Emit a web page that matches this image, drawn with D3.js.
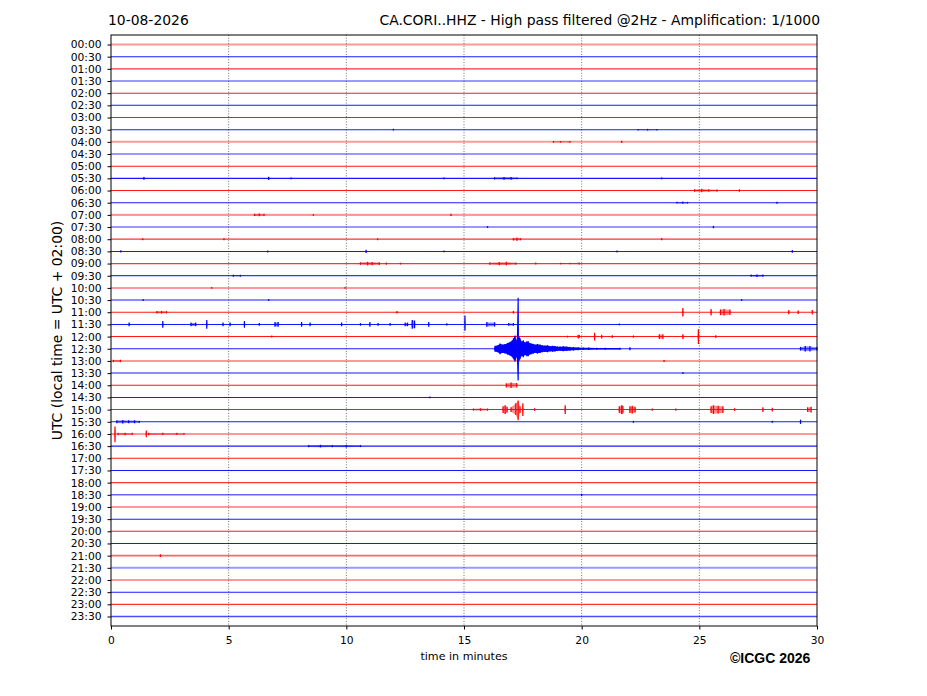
<!DOCTYPE html>
<html lang="en">
<head>
  <meta charset="UTF-8" />
  <title>CA.CORI..HHZ helicorder</title>
  <script src="https://d3js.org/d3.v7.min.js"></script>
  <style>
    body {
      background: white;
      margin: 0;
      padding: 0;
      overflow: hidden;
      font-family: "DejaVu Sans", sans-serif;
    }
  </style>
</head>
<body>
  <div id="chart"></div>
  <script>
    // one trace line per half hour
    const rowLabels = [
      "00:00", "00:30", "01:00", "01:30", "02:00", "02:30", "03:00", "03:30",
      "04:00", "04:30", "05:00", "05:30", "06:00", "06:30", "07:00", "07:30",
      "08:00", "08:30", "09:00", "09:30", "10:00", "10:30", "11:00", "11:30",
      "12:00", "12:30", "13:00", "13:30", "14:00", "14:30", "15:00", "15:30",
      "16:00", "16:30", "17:00", "17:30", "18:00", "18:30", "19:00", "19:30",
      "20:00", "20:30", "21:00", "21:30", "22:00", "22:30", "23:00", "23:30"
    ];
    const rowColors = ["#ff0000", "#0000ff"];

    // background noise level of each trace (amplitude units)
    const rowNoise = [
      1.0, 0.5, 0.6, 1.0, 0.5, 0.5, 0.5, 0.5,
      1.0, 1.0, 0.5, 0.5, 0.5, 0.5, 1.0, 1.0,
      0.6, 0.5, 0.6, 0.6, 1.0, 0.5, 0.5, 0.5,
      0.5, 0.5, 1.0, 0.5, 0.5, 0.5, 0.5, 0.5,
      1.0, 0.5, 0.5, 0.5, 0.6, 0.8, 1.0, 0.5,
      0.5, 0.5, 0.8, 1.0, 0.6, 0.5, 0.6, 0.7
    ];

    const xTicks = [0, 5, 10, 15, 20, 25, 30];
    const gridMinutes = [5, 10, 15, 20, 25];

    // bursts: [row, [[minute, up, down], ...]]
    const events = [
      ["03:30", [[12.0, 0.6]]],
      ["03:30", [[22.4, 0.4], [22.8, 0.5], [23.2, 0.4]]],
      ["04:00", [[18.8, 0.6], [19.1, 0.5], [19.5, 0.6]]],
      ["04:00", [[21.7, 0.8]]],
      ["05:30", [[1.4, 1.0]]],
      ["05:30", [[6.7, 1.2]]],
      ["05:30", [[7.65, 0.6]]],
      ["05:30", [[14.15, 0.5]]],
      ["05:30", [[16.3, 0.8], [16.7, 1.0], [17.0, 1.0], [17.25, 0.6]]],
      ["05:30", [[23.4, 0.5]]],
      ["06:00", [[24.8, 1.0], [25.1, 1.4], [25.4, 1.0], [25.75, 0.8]]],
      ["06:00", [[26.7, 0.9]]],
      ["06:30", [[24.05, 0.6], [24.3, 0.8], [24.5, 0.5]]],
      ["06:30", [[28.3, 0.7]]],
      ["07:00", [[6.1, 0.8], [6.3, 1.1], [6.5, 0.7]]],
      ["07:00", [[8.6, 0.6]]],
      ["07:00", [[14.45, 0.9]]],
      ["07:30", [[16.0, 0.6]]],
      ["07:30", [[25.6, 0.9]]],
      ["08:00", [[1.35, 0.6]]],
      ["08:00", [[4.8, 0.6]]],
      ["08:00", [[11.33, 0.6]]],
      ["08:00", [[17.1, 1.0], [17.25, 1.3], [17.4, 0.8]]],
      ["08:00", [[23.4, 0.8]]],
      ["08:30", [[0.42, 0.9]]],
      ["08:30", [[6.66, 0.7]]],
      ["08:30", [[10.84, 1.4]]],
      ["08:30", [[14.15, 0.6]]],
      ["08:30", [[21.5, 0.7]]],
      ["08:30", [[28.95, 1.0]]],
      ["09:00", [[10.6, 1.0], [10.9, 1.5], [11.1, 1.3], [11.4, 1.0]]],
      ["09:00", [[11.7, 0.8]]],
      ["09:00", [[12.3, 0.6]]],
      ["09:00", [[16.1, 0.9], [16.5, 1.3], [16.8, 1.4], [17.2, 0.8]]],
      ["09:00", [[18.05, 0.7]]],
      ["09:00", [[19.1, 0.5], [19.5, 0.5], [19.9, 0.7]]],
      ["09:30", [[5.2, 0.6], [5.5, 0.6]]],
      ["09:30", [[27.2, 0.8], [27.45, 1.0], [27.7, 0.8]]],
      ["10:00", [[4.28, 0.6]]],
      ["10:00", [[9.95, 0.6]]],
      ["10:30", [[1.37, 0.6]]],
      ["10:30", [[6.7, 0.5]]],
      ["10:30", [[26.8, 0.5]]],
      ["11:00", [[1.95, 0.9], [2.15, 1.1], [2.36, 0.8]]],
      ["11:00", [[12.15, 1.0]]],
      ["11:00", [[17.1, 1.0]]],
      ["11:00", [[24.3, 4.0]]],
      ["11:00", [[25.5, 3.0]]],
      ["11:00", [[25.9, 2.5], [26.05, 3.0], [26.3, 2.5]]],
      ["11:00", [[28.8, 1.8]]],
      ["11:00", [[29.2, 1.4]]],
      ["11:00", [[29.8, 2.0]]],
      ["11:30", [[0.77, 1.5]]],
      ["11:30", [[2.2, 3.0]]],
      ["11:30", [[3.4, 1.5], [3.6, 1.5]]],
      ["11:30", [[4.07, 4.0]]],
      ["11:30", [[4.76, 1.5]]],
      ["11:30", [[5.06, 1.5]]],
      ["11:30", [[5.67, 3.0]]],
      ["11:30", [[6.3, 1.0]]],
      ["11:30", [[6.97, 2.0], [7.1, 2.0]]],
      ["11:30", [[8.1, 2.0]]],
      ["11:30", [[8.46, 1.5]]],
      ["11:30", [[9.8, 1.5]]],
      ["11:30", [[10.6, 1.0]]],
      ["11:30", [[11.0, 2.0]]],
      ["11:30", [[11.35, 1.0]]],
      ["11:30", [[11.86, 1.0]]],
      ["11:30", [[12.5, 1.5], [12.6, 1.5]]],
      ["11:30", [[12.8, 4.0], [12.9, 3.5]]],
      ["11:30", [[13.5, 2.0]]],
      ["11:30", [[14.27, 0.8]]],
      ["11:30", [[15.04, 8.5, 6.0]]],
      ["11:30", [[15.97, 2.0], [16.3, 1.8]]],
      ["11:30", [[16.9, 1.0], [17.1, 1.0]]],
      ["11:30", [[21.6, 0.6]]],
      ["12:00", [[6.83, 0.7]]],
      ["12:00", [[19.4, 0.6]]],
      ["12:00", [[19.85, 1.5], [19.9, 1.2]]],
      ["12:00", [[20.55, 3.5]]],
      ["12:00", [[20.85, 1.5]]],
      ["12:00", [[21.3, 1.0]]],
      ["12:00", [[22.2, 0.8]]],
      ["12:00", [[23.3, 2.0], [23.45, 2.0]]],
      ["12:00", [[24.3, 2.0]]],
      ["12:00", [[24.96, 7.0]]],
      ["12:00", [[25.7, 1.0]]],
      ["12:30", [
        [16.32, 2.7], [16.45, 3.5], [16.53, 5.0], [16.65, 4.0], [16.74, 4.5],
        [16.85, 5.5], [16.96, 6.7], [17.05, 8.0], [17.1, 10.0], [17.17, 12.7, 12.3],
        [17.24, 8.0], [17.3, 50.0, 31.0], [17.33, 12.0], [17.38, 10.0], [17.45, 7.0],
        [17.52, 8.0], [17.6, 6.0], [17.67, 7.0], [17.73, 7.0], [17.8, 5.5],
        [17.88, 5.0], [17.95, 4.5], [18.02, 4.0], [18.12, 4.5], [18.23, 4.0],
        [18.33, 3.2], [18.44, 3.0], [18.55, 3.2], [18.66, 2.5], [18.77, 2.7],
        [18.87, 2.5], [18.97, 2.0], [19.08, 2.0], [19.22, 2.2], [19.37, 2.0],
        [19.5, 1.6], [19.65, 1.5], [19.85, 1.3], [20.07, 1.0], [20.3, 0.9],
        [20.64, 0.8], [21.0, 0.8], [21.63, 0.7]
      ]],
      ["12:30", [[22.05, 1.3]]],
      ["12:30", [[29.3, 1.5], [29.5, 2.5], [29.7, 2.3], [30.0, 1.5]]],
      ["13:00", [[0.1, 0.9], [0.4, 0.9]]],
      ["13:00", [[23.5, 0.7]]],
      ["13:30", [[24.3, 0.6]]],
      ["14:00", [[16.8, 1.8], [17.0, 2.5], [17.24, 2.0]]],
      ["14:30", [[13.55, 0.6]]],
      ["15:00", [[15.4, 0.8], [15.7, 1.0], [16.0, 0.8]]],
      ["15:00", [[16.66, 3.0], [16.75, 4.0], [16.83, 2.5]]],
      ["15:00", [[17.0, 2.0], [17.2, 6.0, 5.0], [17.3, 8.7, 10.3], [17.38, 3.0]]],
      ["15:00", [[17.5, 6.0]]],
      ["15:00", [[18.0, 1.0]]],
      ["15:00", [[19.3, 4.0]]],
      ["15:00", [[21.6, 3.0], [21.7, 4.0], [21.75, 3.5]]],
      ["15:00", [[22.05, 3.0], [22.15, 3.5], [22.27, 2.5]]],
      ["15:00", [[23.0, 0.8]]],
      ["15:00", [[24.0, 0.8]]],
      ["15:00", [[25.5, 3.0], [25.6, 4.0], [25.8, 3.5], [26.0, 3.0]]],
      ["15:00", [[26.5, 1.0]]],
      ["15:00", [[27.7, 2.0]]],
      ["15:00", [[28.1, 1.5]]],
      ["15:00", [[29.6, 2.0], [29.75, 2.5]]],
      ["15:30", [[0.25, 1.2], [0.5, 1.5], [0.75, 1.2], [1.0, 1.2], [1.2, 0.8]]],
      ["15:30", [[22.2, 0.7]]],
      ["15:30", [[28.1, 0.7]]],
      ["15:30", [[29.3, 1.8]]],
      ["16:00", [[0.17, 7.0, 8.0]]],
      ["16:00", [[0.3, 1.0], [0.6, 1.0], [0.9, 0.8]]],
      ["16:00", [[1.5, 3.0]]],
      ["16:00", [[1.6, 1.0], [2.2, 0.8], [2.8, 0.8], [3.1, 0.6]]],
      ["16:30", [[8.4, 0.8], [8.9, 1.0], [9.4, 0.8], [10.0, 1.0], [10.6, 0.7]]],
      ["18:30", [[20.0, 0.8]]],
      ["21:00", [[2.1, 1.0]]]
    ];

    const width = 927;
    const height = 696;
    const plotLeft = 111, plotRight = 817, plotTop = 35, plotBottom = 626;
    const taper = 0.05;

    const svg = d3.select("#chart")
      .append("svg")
      .attr("width", width)
      .attr("height", height);

    const x = d3.scaleLinear().domain([0, 30]).range([plotLeft, plotRight]);
    const y = d3.scalePoint().domain(rowLabels).range([plotTop, plotBottom]).padding(0.78);
    const amp = d3.scaleLinear().domain([0, 12]).range([0, y.step()]);
    const noiseOpacity = d3.scaleLinear().domain([0.5, 1]).range([0.9, 0.4]).clamp(true);

    const colorOf = label => rowColors[rowLabels.indexOf(label) % 2];
    const downOf = p => (p[2] === undefined ? p[1] : p[2]);

    // dotted minute grid
    svg.append("g")
      .selectAll("line")
      .data(gridMinutes)
      .join("line")
      .attr("x1", d => x(d))
      .attr("x2", d => x(d))
      .attr("y1", plotTop)
      .attr("y2", plotBottom)
      .attr("stroke", "#333")
      .attr("stroke-width", 0.7)
      .attr("stroke-dasharray", "1,1.7");

    // base traces
    svg.append("g")
      .selectAll("line")
      .data(rowLabels)
      .join("line")
      .attr("x1", x(0))
      .attr("x2", x(30))
      .attr("y1", d => y(d))
      .attr("y2", d => y(d))
      .attr("stroke", d => colorOf(d))
      .attr("stroke-width", (d, i) => Math.max(1, amp(rowNoise[i]) * 2))
      .attr("stroke-opacity", (d, i) => noiseOpacity(rowNoise[i]));

    // bursts: faint envelope plus min/max strokes at each reading
    const area = d3.area()
      .x(d => x(d[0]))
      .y0(d => d[3] + amp(d[2]))
      .y1(d => d[3] - amp(d[1]));

    const gEv = svg.append("g");
    events.forEach(([row, pts]) => {
      const base = y(row);
      const col = colorOf(row);
      const first = pts[0][0], last = pts[pts.length - 1][0];
      const env = [[Math.max(0, first - taper), 0, 0, base]]
        .concat(pts.map(p => [p[0], p[1], downOf(p), base]))
        .concat([[Math.min(30, last + taper), 0, 0, base]]);
      const dense = pts.length > 8;
      gEv.append("path")
        .attr("d", area(env))
        .attr("fill", col)
        .attr("fill-opacity", dense ? 1 : 0.45);
      pts.forEach(p => {
        gEv.append("line")
          .attr("x1", x(p[0]))
          .attr("x2", x(p[0]))
          .attr("y1", base - amp(p[1]) - 0.3)
          .attr("y2", base + amp(downOf(p)) + 0.3)
          .attr("stroke", col)
          .attr("stroke-width", 1.2);
      });
    });

    // axes
    const yAxis = d3.axisLeft(y).tickSize(3.5).tickSizeOuter(0).tickPadding(6);
    const gy = svg.append("g")
      .attr("transform", `translate(${plotLeft},0)`)
      .call(yAxis);
    gy.select(".domain").remove();
    gy.selectAll("text")
      .style("font-family", "DejaVu Sans")
      .style("font-size", "10.7px")
      .attr("fill", "#000");

    const xAxis = d3.axisBottom(x).tickValues(xTicks).tickFormat(d3.format("d"))
      .tickSize(3.5).tickSizeOuter(0).tickPadding(6.5);
    const gx = svg.append("g")
      .attr("transform", `translate(0,${plotBottom})`)
      .call(xAxis);
    gx.select(".domain").remove();
    gx.selectAll("text")
      .style("font-family", "DejaVu Sans")
      .style("font-size", "10.7px")
      .attr("fill", "#000");

    svg.append("rect")
      .attr("x", plotLeft)
      .attr("y", plotTop)
      .attr("width", plotRight - plotLeft)
      .attr("height", plotBottom - plotTop)
      .attr("fill", "none")
      .attr("stroke", "#000")
      .attr("stroke-width", 1);

    // titles and labels
    svg.append("text")
      .attr("x", 108)
      .attr("y", 25)
      .style("font-family", "DejaVu Sans")
      .style("font-size", "13.9px")
      .text("10-08-2026");

    svg.append("text")
      .attr("x", 820)
      .attr("y", 25)
      .attr("text-anchor", "end")
      .style("font-family", "DejaVu Sans")
      .style("font-size", "13.9px")
      .text("CA.CORI..HHZ - High pass filtered @2Hz - Amplification: 1/1000");

    svg.append("text")
      .attr("transform", `translate(62,${(plotTop + plotBottom) / 2}) rotate(-90)`)
      .attr("text-anchor", "middle")
      .style("font-family", "DejaVu Sans")
      .style("font-size", "13.9px")
      .text("UTC (local time = UTC + 02:00)");

    svg.append("text")
      .attr("x", (plotLeft + plotRight) / 2)
      .attr("y", 660)
      .attr("text-anchor", "middle")
      .style("font-family", "DejaVu Sans")
      .style("font-size", "11.1px")
      .text("time in minutes");

    svg.append("text")
      .attr("x", 730)
      .attr("y", 663)
      .style("font-family", "Liberation Sans")
      .style("font-weight", "bold")
      .style("font-size", "14px")
      .text("©ICGC 2026");
  </script>
</body>
</html>
